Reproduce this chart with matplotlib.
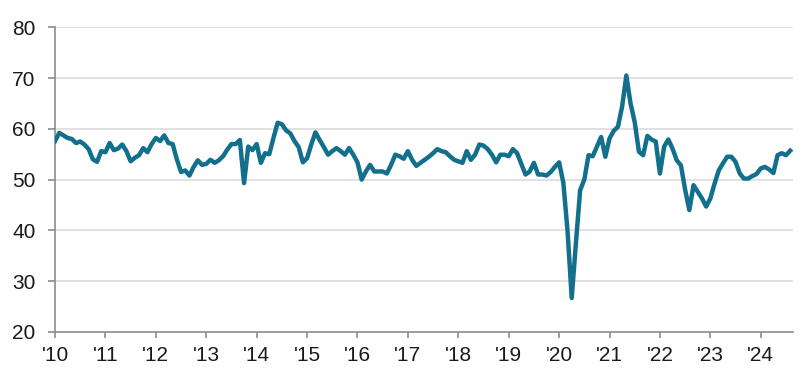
import numpy as np
import matplotlib
matplotlib.use("Agg")
import matplotlib.pyplot as plt

# monthly index values, Jan 2010 .. Aug 2024
start_year = 2010
values = [
    # 2010
    57.6, 59.2, 58.7, 58.2, 58.0, 57.2, 57.5, 56.9, 56.0, 54.0, 53.5, 55.6,
    # 2011
    55.4, 57.2, 55.8, 56.1, 56.9, 55.6, 53.6, 54.3, 54.8, 56.2, 55.4, 57.0,
    # 2012
    58.2, 57.6, 58.7, 57.2, 57.0, 54.0, 51.5, 51.8, 50.8, 52.5, 53.8, 52.9,
    # 2013
    53.1, 53.9, 53.3, 53.8, 54.6, 55.9, 57.0, 57.0, 57.8, 49.3, 56.5, 55.8,
    # 2014
    57.0, 53.3, 55.2, 55.0, 58.2, 61.2, 60.9, 59.7, 59.1, 57.6, 56.4, 53.4,
    # 2015
    54.2, 56.9, 59.3, 57.8, 56.4, 54.9, 55.6, 56.2, 55.6, 54.9, 56.2, 54.9,
    # 2016
    53.4, 50.0, 51.6, 52.9, 51.6, 51.6, 51.6, 51.2, 52.9, 54.9, 54.6, 54.1,
    # 2017
    55.6, 53.9, 52.7, 53.3, 53.9, 54.5, 55.2, 56.0, 55.6, 55.4, 54.6, 53.9,
    # 2018
    53.6, 53.3, 55.6, 53.9, 54.9, 56.9, 56.7, 56.0, 54.9, 53.4, 54.9, 54.9,
    # 2019
    54.6, 56.0, 55.2, 53.1, 51.0, 51.6, 53.3, 51.0, 51.0, 50.8, 51.5, 52.5,
    # 2020
    53.4, 49.4, 40.0, 26.7, 37.5, 47.9, 50.0, 54.8, 54.6, 56.5, 58.4, 54.5,
    # 2021
    58.1, 59.6, 60.4, 64.4, 70.5, 65.0, 61.3, 55.5, 54.8, 58.6, 57.9, 57.5,
    # 2022
    51.2, 56.5, 57.9, 56.1, 53.8, 52.8, 48.0, 44.0, 48.9, 47.6, 46.3, 44.7,
    # 2023
    46.3, 49.2, 51.8, 53.2, 54.5, 54.5, 53.5, 51.2, 50.2, 50.2, 50.7, 51.1,
    # 2024
    52.2, 52.5, 52.0, 51.3, 54.8, 55.2, 54.8, 55.7,
]
year_ticks = list(range(2010, 2025))
year_labels = ["'%02d" % (y % 100) for y in year_ticks]
y_ticks = [20, 30, 40, 50, 60, 70, 80]

plt.rcParams['font.family'] = ['Liberation Sans', 'DejaVu Sans']

t = start_year + np.arange(len(values)) / 12.0

fig = plt.figure(figsize=(8.02, 3.73), dpi=100)
ax = fig.add_axes([0.0686, 0.110, 0.9202, 0.817])

ax.plot(t, values, color='#13708d', lw=3.2, solid_joinstyle='round', zorder=3)

ax.set_xlim(2010, 2024.64)
ax.set_ylim(20, 80)
ax.set_xticks(year_ticks)
ax.set_xticklabels(year_labels)
ax.set_yticks(y_ticks)

# light horizontal gridlines
for v in y_ticks[1:]:
    ax.axhline(v, color='#d9d9d9', lw=1.1, zorder=1)

for s in ['top', 'right']:
    ax.spines[s].set_visible(False)
for s in ['left', 'bottom']:
    ax.spines[s].set_color('#8c8c8c')
    ax.spines[s].set_linewidth(1.2)

ax.tick_params(axis='y', direction='out', length=5, width=1.2, color='#8c8c8c',
               labelsize=15, labelcolor='#1a1a1a', pad=9)
ax.tick_params(axis='x', direction='out', length=4, width=1.2, color='#8c8c8c',
               labelsize=15, labelcolor='#1a1a1a', pad=6)

fig.savefig('out.png', dpi=100)
